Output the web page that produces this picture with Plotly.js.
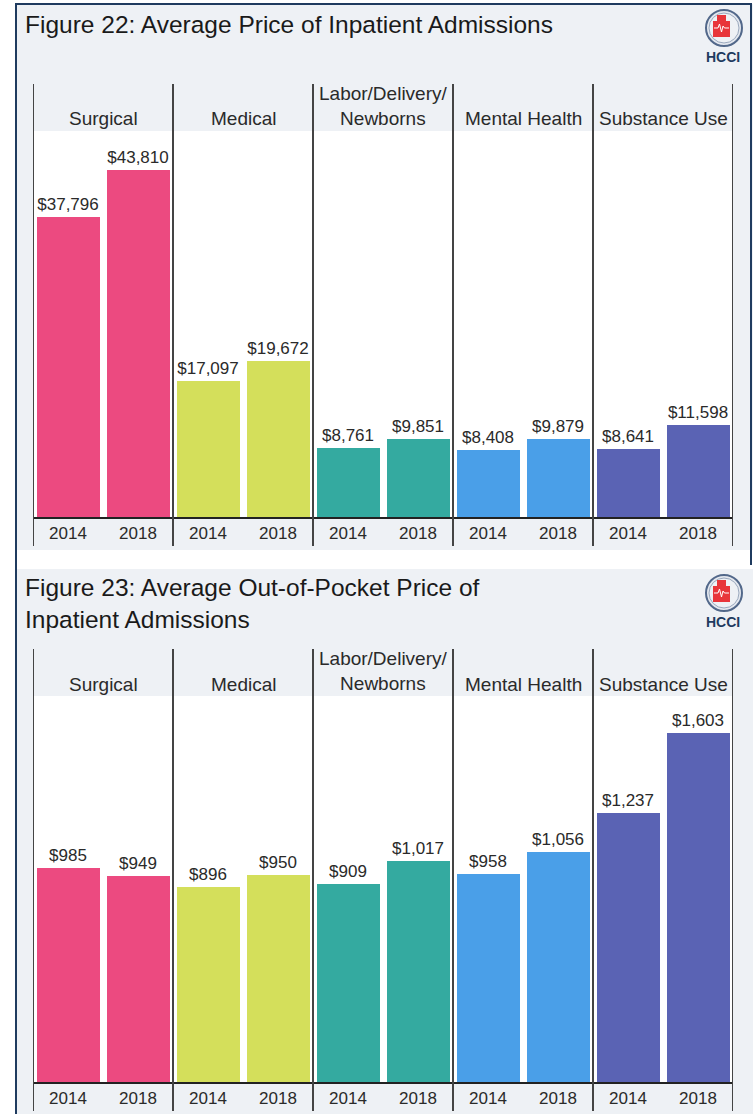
<!DOCTYPE html>
<html>
<head>
<meta charset="utf-8">
<script src="https://cdn.plot.ly/plotly-3.0.1.min.js"></script>
<style>html,body{margin:0;padding:0;background:#fff;}#chart{width:754px;height:1114px;}</style>
</head>
<body>
<div id="chart"></div>
<script>
// ---- data ----
const categories = ["Surgical", "Medical", "Labor/Delivery/<br>Newborns", "Mental Health", "Substance Use"];
const years = ["2014", "2018"];
const avgPrice2014 = [37796, 17097, 8761, 8408, 8641];
const avgPrice2018 = [43810, 19672, 9851, 9879, 11598];
const oopPrice2014 = [985, 896, 909, 958, 1237];
const oopPrice2018 = [949, 950, 1017, 1056, 1603];
const title22 = "Figure 22: Average Price of Inpatient Admissions";
const title23 = "Figure 23: Average Out-of-Pocket Price of<br>Inpatient Admissions";

// ---- styles ----
const catColors = ["#EC4A80", "#D4DF5B", "#34AAA0", "#4A9FE8", "#5A63B4"];
const W = 754, H = 1114;
const FONT = "Liberation Sans, Arial, sans-serif";
const px = x => x / W;
const py = y => 1 - y / H;
const OFF = 565; // vertical offset of second panel

function build(v14, v18) {
  const x = [], y = [], text = [], colors = [];
  categories.forEach((c, g) => {
    [v14[g], v18[g]].forEach((v, j) => {
      x.push(g * 2 + j);
      y.push(v);
      text.push("$" + v.toLocaleString("en-US"));
      colors.push(catColors[g]);
    });
  });
  return {x, y, text, colors};
}
const d1 = build(avgPrice2014, avgPrice2018);
const d2 = build(oopPrice2014, oopPrice2018);

function barTrace(d, xa, ya) {
  return {
    type: "bar", x: d.x, y: d.y, text: d.text, xaxis: xa, yaxis: ya,
    width: 0.9, textposition: "outside", constraintext: "none", cliponaxis: false,
    textfont: {family: FONT, size: 17, color: "#2a2a2a"},
    marker: {color: d.colors, line: {width: 0}},
    hoverinfo: "skip", showlegend: false
  };
}

const tickvals = d1.x;
const ticktext = d1.x.map(i => years[i % 2]);

const shapes = [];
const annotations = [];
function rectPx(x0, y0, x1, y1, fill) {
  shapes.push({type: "rect", xref: "paper", yref: "paper", x0: px(x0), x1: px(x1), y0: py(y1), y1: py(y0),
    fillcolor: fill, line: {width: 0}, layer: "below"});
}
function linePx(x0, y0, x1, y1, color, w) {
  shapes.push({type: "line", xref: "paper", yref: "paper", x0: px(x0), x1: px(x1), y0: py(y0), y1: py(y1),
    line: {color: color, width: w}});
}
function pathPx(pts, fill, lineColor, lw, close) {
  let s = pts.map((p, i) => (i ? "L" : "M") + px(p[0]).toFixed(5) + "," + py(p[1]).toFixed(5)).join(" ");
  if (close) s += " Z";
  shapes.push({type: "path", xref: "paper", yref: "paper", path: s,
    fillcolor: fill || "rgba(0,0,0,0)", line: {color: lineColor || "rgba(0,0,0,0)", width: lw || 0}});
}
function logo(dy) {
  shapes.push({type: "circle", xref: "paper", yref: "paper", x0: px(706), x1: px(742), y0: py(46 + dy), y1: py(10 + dy),
    fillcolor: "#e4e8ef", line: {color: "#52688a", width: 2}});
  shapes.push({type: "circle", xref: "paper", yref: "paper", x0: px(709), x1: px(739), y0: py(43 + dy), y1: py(13 + dy),
    fillcolor: "#eef1f5", line: {color: "#9aa8bd", width: 1}});
  pathPx([[713, 37 + dy], [713, 21 + dy], [717, 21 + dy], [717, 15 + dy], [726, 15 + dy], [726, 21 + dy], [730, 21 + dy], [730, 37 + dy]],
    "#e8353a", null, 0, true);
  pathPx([[714, 28 + dy], [718, 28 + dy], [719.5, 24 + dy], [721.5, 32 + dy], [723, 26 + dy], [724.5, 28 + dy], [729, 28 + dy]],
    null, "#ffffff", 1, false);
  annotations.push({xref: "paper", yref: "paper", x: px(723), y: py(57 + dy), xanchor: "center", yanchor: "middle",
    text: "<b>HCCI</b>", showarrow: false, font: {family: FONT, size: 14, color: "#1f3b5f"}});
}

function panel(dy, xref, title, titleY) {
  rectPx(17, 4 + dy, 753, 550 + dy, "#eef1f5");
  rectPx(33, 131 + dy, 733, 517 + dy, "#ffffff");
  for (let g = 0; g <= categories.length; g++) {
    shapes.push({type: "line", xref: xref, yref: "paper", x0: g * 2 - 0.5, x1: g * 2 - 0.5,
      y0: py(546 + dy), y1: py(84 + dy), line: {color: "#444444", width: 2}});
  }
  categories.forEach((c, g) => {
    const twoLine = c.indexOf("<br>") >= 0;
    annotations.push({xref: xref, yref: "paper", x: g * 2 + 0.5, y: py((twoLine ? 106 : 119) + dy),
      xanchor: "center", yanchor: "middle", text: c, showarrow: false, align: "center",
      font: {family: FONT, size: 19, color: "#2a2a2a"}});
  });
  annotations.push({xref: "paper", yref: "paper", x: px(23), y: py(titleY + dy), xanchor: "left", yanchor: "middle",
    text: title, showarrow: false, align: "left", font: {family: FONT, size: 24.5, color: "#1a1a1a"}});
  logo(dy);
}
panel(0, "x", title22, 24);
panel(OFF, "x2", title23, 38);
linePx(16, 3, 16, 1114, "#1f3b5f", 2);
linePx(16, 4, 752, 4, "#1f3b5f", 2);
linePx(751, 4, 751, 565, "#1f3b5f", 2);

function xaxis(anchor) {
  return {domain: [px(33), px(733)], range: [-0.5, 9.5], anchor: anchor, tickvals: tickvals, ticktext: ticktext,
    showgrid: false, zeroline: false, showline: true, linecolor: "#222", linewidth: 1.5, ticks: "",
    tickfont: {family: FONT, size: 17, color: "#2a2a2a"}, fixedrange: true};
}
function yaxis(anchor, dom, max) {
  return {domain: dom, range: [0, max], anchor: anchor, showgrid: false, zeroline: false, showline: false,
    showticklabels: false, ticks: "", fixedrange: true};
}

const layout = {
  width: W, height: H, margin: {l: 0, r: 0, t: 0, b: 0},
  paper_bgcolor: "#ffffff", plot_bgcolor: "rgba(0,0,0,0)",
  font: {family: FONT},
  xaxis: xaxis("y"), yaxis: yaxis("x", [py(517), py(131)], 48700),
  xaxis2: xaxis("y2"), yaxis2: yaxis("x2", [py(517 + OFF), py(131 + OFF)], 1775),
  bargap: 0, shapes: shapes, annotations: annotations, showlegend: false
};

Plotly.newPlot("chart", [barTrace(d1, "x", "y"), barTrace(d2, "x2", "y2")], layout, {staticPlot: true});
</script>
</body>
</html>
